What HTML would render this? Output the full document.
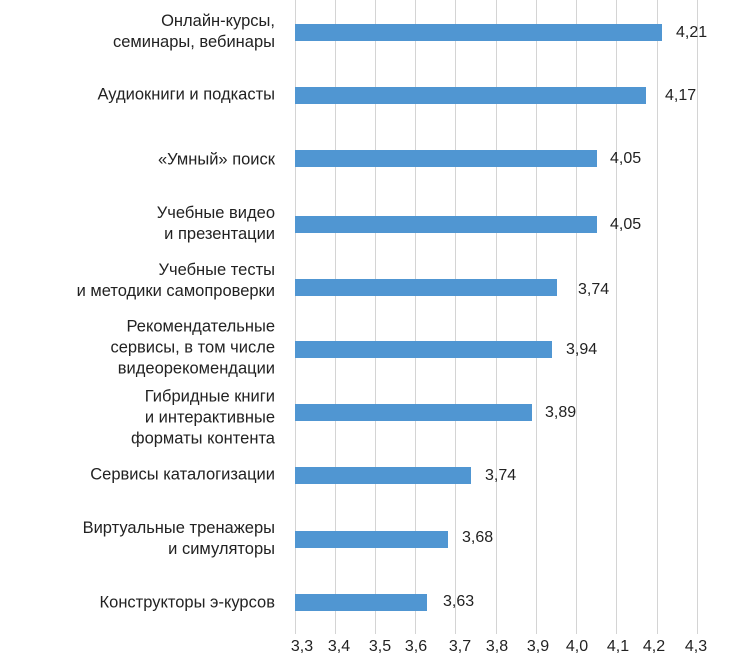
<!DOCTYPE html>
<html><head><meta charset="utf-8"><style>
body{margin:0;width:746px;height:667px;background:#fff;position:relative;overflow:hidden;font-family:"Liberation Sans","DejaVu Sans",sans-serif;color:#222}
.g{position:absolute;top:0;height:634px;width:1px;background:#d4d4d4}
.b{position:absolute;left:295px;height:17px;background:#5096d2}
.v{position:absolute;font-size:16px;line-height:18px}
.l{position:absolute;right:471px;font-size:16.5px;line-height:21px;text-align:right;white-space:nowrap;transform:translateY(-50%)}
.t{position:absolute;top:638px;font-size:16px;transform:translateX(-50%)}
</style></head><body>
<div class="g" style="left:295px"></div><div class="g" style="left:335px"></div><div class="g" style="left:375px"></div><div class="g" style="left:415px"></div><div class="g" style="left:455px"></div><div class="g" style="left:496px"></div><div class="g" style="left:536px"></div><div class="g" style="left:576px"></div><div class="g" style="left:616px"></div><div class="g" style="left:657px"></div><div class="g" style="left:697px"></div>

<div class="b" style="top:24px;width:367px"></div><div class="v" style="top:24px;left:676px">4,21</div>
<div class="b" style="top:87px;width:351px"></div><div class="v" style="top:87px;left:665px">4,17</div>
<div class="b" style="top:150px;width:302px"></div><div class="v" style="top:150px;left:610px">4,05</div>
<div class="b" style="top:216px;width:302px"></div><div class="v" style="top:216px;left:610px">4,05</div>
<div class="b" style="top:279px;width:262px"></div><div class="v" style="top:281px;left:578px">3,74</div>
<div class="b" style="top:341px;width:257px"></div><div class="v" style="top:341px;left:566px">3,94</div>
<div class="b" style="top:404px;width:237px"></div><div class="v" style="top:404px;left:545px">3,89</div>
<div class="b" style="top:467px;width:176px"></div><div class="v" style="top:467px;left:485px">3,74</div>
<div class="b" style="top:531px;width:153px"></div><div class="v" style="top:529px;left:462px">3,68</div>
<div class="b" style="top:594px;width:132px"></div><div class="v" style="top:593px;left:443px">3,63</div>

<div class="l" style="top:32px">Онлайн-курсы,<br>семинары, вебинары</div>
<div class="l" style="top:95px">Аудиокниги и подкасты</div>
<div class="l" style="top:160px">«Умный» поиск</div>
<div class="l" style="top:224px">Учебные видео<br>и презентации</div>
<div class="l" style="top:281px">Учебные тесты<br>и методики самопроверки</div>
<div class="l" style="top:348px">Рекомендательные<br>сервисы, в том числе<br>видеорекомендации</div>
<div class="l" style="top:418px">Гибридные книги<br>и интерактивные<br>форматы контента</div>
<div class="l" style="top:475px">Сервисы каталогизации</div>
<div class="l" style="top:539px">Виртуальные тренажеры<br>и симуляторы</div>
<div class="l" style="top:603px">Конструкторы э-курсов</div>

<div class="t" style="left:302px">3,3</div><div class="t" style="left:339px">3,4</div><div class="t" style="left:380px">3,5</div><div class="t" style="left:416px">3,6</div><div class="t" style="left:460px">3,7</div><div class="t" style="left:497px">3,8</div><div class="t" style="left:538px">3,9</div><div class="t" style="left:577px">4,0</div><div class="t" style="left:618px">4,1</div><div class="t" style="left:654px">4,2</div><div class="t" style="left:696px">4,3</div>
</body></html>
